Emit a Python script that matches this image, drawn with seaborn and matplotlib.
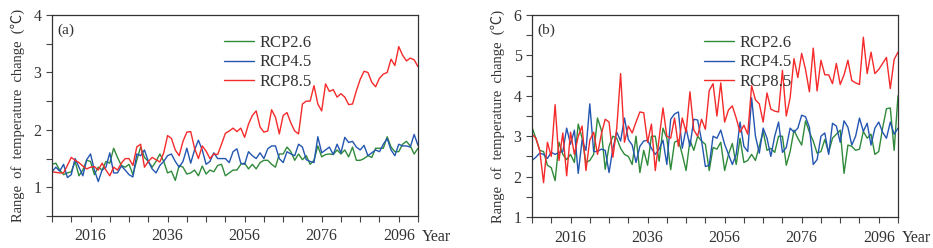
import numpy as np
import pandas as pd
import matplotlib
matplotlib.use('Agg')
import matplotlib.pyplot as plt
import seaborn as sns

years = list(range(2006, 2102))
scenarios = ['RCP2.6', 'RCP4.5', 'RCP8.5']

# panel (a)
rcp26_a = [1.40, 1.42, 1.30, 1.22, 1.25, 1.27, 1.45, 1.20, 1.30, 1.47, 1.45, 1.22, 1.35, 1.30, 1.45, 1.42,
           1.68, 1.52, 1.38, 1.35, 1.40, 1.22, 1.47, 1.70, 1.52, 1.45, 1.35, 1.45, 1.58, 1.45, 1.25, 1.28,
           1.12, 1.38, 1.35, 1.23, 1.25, 1.30, 1.20, 1.37, 1.23, 1.30, 1.27, 1.38, 1.40, 1.20, 1.25, 1.30,
           1.30, 1.40, 1.42, 1.32, 1.40, 1.32, 1.43, 1.47, 1.47, 1.40, 1.35, 1.58, 1.58, 1.70, 1.62, 1.47,
           1.58, 1.48, 1.55, 1.40, 1.47, 1.72, 1.53, 1.57, 1.58, 1.57, 1.65, 1.58, 1.65, 1.53, 1.70, 1.47,
           1.47, 1.50, 1.55, 1.52, 1.68, 1.68, 1.68, 1.88, 1.70, 1.62, 1.62, 1.75, 1.80, 1.72, 1.58, 1.68]
rcp45_a = [1.27, 1.35, 1.28, 1.40, 1.17, 1.22, 1.50, 1.35, 1.20, 1.48, 1.58, 1.30, 1.10, 1.30, 1.35, 1.60,
           1.25, 1.25, 1.37, 1.30, 1.22, 1.18, 1.58, 1.55, 1.65, 1.45, 1.32, 1.25, 1.38, 1.45, 1.55, 1.58,
           1.45, 1.35, 1.45, 1.68, 1.42, 1.65, 1.82, 1.65, 1.40, 1.45, 1.60, 1.50, 1.50, 1.50, 1.43, 1.62,
           1.67, 1.42, 1.40, 1.62, 1.55, 1.50, 1.60, 1.50, 1.67, 1.72, 1.72, 1.50, 1.43, 1.62, 1.58, 1.55,
           1.75, 1.70, 1.48, 1.45, 1.43, 1.88, 1.60, 1.65, 1.70, 1.57, 1.75, 1.60, 1.87, 1.78, 1.80, 1.70,
           1.65, 1.73, 1.55, 1.60, 1.65, 1.62, 1.75, 1.85, 1.65, 1.55, 1.75, 1.72, 1.72, 1.70, 1.92, 1.73]
rcp85_a = [1.27, 1.26, 1.25, 1.25, 1.38, 1.52, 1.47, 1.43, 1.37, 1.32, 1.35, 1.36, 1.30, 1.42, 1.30, 1.20,
           1.35, 1.30, 1.42, 1.50, 1.50, 1.38, 1.70, 1.75, 1.35, 1.45, 1.52, 1.48, 1.44, 1.60, 1.90, 1.85,
           1.65, 1.55, 1.80, 1.96, 1.97, 1.68, 1.50, 1.72, 1.63, 1.50, 1.58, 1.57, 1.75, 1.94, 1.98, 2.03,
           1.97, 2.03, 1.87, 2.10, 2.25, 2.33, 2.05, 1.96, 1.98, 2.35, 2.22, 1.93, 2.25, 2.30, 2.12, 1.98,
           1.93, 2.45, 2.50, 2.50, 2.77, 2.45, 2.33, 2.80, 2.67, 2.70, 2.57, 2.63, 2.57, 2.44, 2.45, 2.68,
           2.88, 3.02, 3.00, 2.83, 2.75, 2.90, 2.97, 3.00, 3.23, 3.12, 3.45, 3.30, 3.20, 3.25, 3.22, 3.10]

# panel (b)
rcp26_b = [3.22, 2.95, 2.65, 2.62, 2.28, 2.22, 1.90, 2.85, 2.55, 2.42, 2.55, 2.35, 3.30, 2.95, 2.35, 2.40,
           2.55, 3.45, 3.15, 2.18, 2.75, 3.00, 2.95, 2.70, 2.55, 2.50, 2.30, 3.00, 2.10, 2.65, 2.28, 3.00,
           3.00, 2.38, 3.20, 2.95, 2.17, 2.85, 2.90, 2.55, 2.15, 2.90, 2.65, 3.00, 2.88, 2.80, 2.15, 2.72,
           2.68, 2.85, 2.15, 2.55, 2.82, 2.30, 2.95, 2.35, 2.40, 2.55, 2.40, 2.75, 3.12, 2.65, 2.70, 2.60,
           3.00, 3.00, 2.28, 2.62, 3.15, 2.95, 2.78, 3.38, 3.10, 2.88, 2.58, 2.62, 2.92, 2.60, 2.95, 3.05,
           3.15, 2.08, 2.78, 2.75, 2.65, 2.68, 3.12, 2.95, 3.05, 2.55, 2.62, 3.20, 3.68, 3.70, 2.65, 4.00]
rcp45_b = [2.40, 2.48, 2.58, 2.55, 2.45, 2.60, 2.55, 2.60, 2.62, 3.20, 2.80, 3.15, 2.08, 2.90, 2.65, 3.80,
           2.62, 2.62, 2.68, 2.65, 2.10, 2.70, 3.10, 2.88, 3.45, 2.92, 2.78, 2.35, 2.75, 2.88, 2.90, 2.70,
           2.55, 2.68, 2.90, 2.30, 3.42, 3.55, 3.60, 2.70, 3.20, 2.75, 3.42, 3.40, 2.90, 2.25, 2.28, 3.00,
           2.95, 3.15, 2.80, 2.55, 2.30, 2.55, 3.35, 2.75, 2.62, 3.95, 3.00, 2.58, 3.20, 2.95, 2.50, 3.00,
           3.35, 2.60, 2.72, 3.20, 3.10, 3.20, 3.52, 3.48, 3.22, 2.30, 2.42, 3.00, 3.08, 2.55, 3.32, 3.25,
           2.85, 3.38, 3.22, 2.78, 3.00, 3.45, 3.12, 3.32, 2.78, 3.20, 3.35, 3.10, 2.95, 3.35, 3.05, 3.20]
rcp85_b = [3.05, 2.95, 2.65, 1.85, 2.85, 2.50, 3.78, 2.40, 3.08, 2.02, 3.10, 2.55, 3.00, 3.25, 2.15, 2.90,
           3.10, 2.55, 3.05, 3.42, 3.35, 2.48, 3.20, 4.55, 2.85, 3.25, 3.08, 3.35, 3.60, 3.58, 2.85, 3.30,
           2.15, 2.95, 3.70, 3.00, 2.95, 3.45, 2.75, 3.45, 3.10, 4.10, 3.15, 3.00, 3.42, 3.17, 4.13, 4.30,
           3.50, 4.32, 3.35, 3.65, 3.75, 3.45, 3.10, 3.27, 3.05, 4.25, 3.90, 3.80, 3.35, 4.07, 3.67, 3.62,
           3.60, 4.63, 3.50, 3.95, 4.92, 4.45, 5.05, 4.65, 4.10, 5.18, 4.12, 4.88, 4.52, 4.52, 4.30, 4.80,
           4.28, 4.52, 4.88, 4.38, 4.32, 4.28, 5.45, 4.55, 5.08, 4.55, 4.65, 4.80, 4.95, 4.18, 4.90, 5.08]

label_years = [2016, 2036, 2056, 2076, 2096]
palette = {'RCP2.6': '#2f8a3a', 'RCP4.5': '#2356b0', 'RCP8.5': '#f52a2a'}


def make_frame(s26, s45, s85):
    parts = []
    for name, vals in zip(scenarios, [s26, s45, s85]):
        parts.append(pd.DataFrame({'year': years, 'value': vals, 'scenario': name}))
    return pd.concat(parts, ignore_index=True)


sns.set_style('ticks')
plt.rcParams['font.family'] = ['Liberation Serif', 'Noto Sans CJK SC', 'DejaVu Sans']

fig = plt.figure(figsize=(9.33, 2.48), dpi=100)
ax_a = fig.add_axes([52 / 933, 32 / 248, 366 / 933, 201 / 248])
ax_b = fig.add_axes([532 / 933, 31 / 248, 366 / 933, 202 / 248])

panels = [
    (ax_a, make_frame(rcp26_a, rcp45_a, rcp85_a), (0.5, 4), [1, 2, 3, 4], '(a)'),
    (ax_b, make_frame(rcp26_b, rcp45_b, rcp85_b), (1, 6), [1, 2, 3, 4, 5, 6], '(b)'),
]

for ax, df, ylim, yticks, tag in panels:
    sns.lineplot(data=df, x='year', y='value', hue='scenario', palette=palette,
                 linewidth=1.0, ax=ax)
    ax.set_xlim(2006, 2101)
    ax.set_ylim(*ylim)
    ax.set_yticks(yticks)
    ax.set_yticks(np.arange(ylim[0], ylim[1] + 0.01, 0.5), minor=True)
    xt = list(range(2006, 2102, 5))
    ax.set_xticks(xt)
    ax.set_xticklabels([str(y) if y in label_years else '' for y in xt])
    ax.tick_params(axis='both', which='both', direction='out', length=4, width=0.8,
                   colors='#444444', labelsize=11.5, labelcolor='#333333')
    ax.tick_params(axis='x', pad=5)
    for sp in ax.spines.values():
        sp.set_color('#333333')
        sp.set_linewidth(0.9)
    ax.set_xlabel('')
    ax.set_ylabel('Range  of  temperature  change  (℃)', fontsize=10.5, color='#333333',
                  labelpad=6)
    ax.text(0.015, 0.96, tag, transform=ax.transAxes, fontsize=11, va='top', color='#333333')
    ax.text(1.01, -0.065, 'Year', transform=ax.transAxes, fontsize=11.5, va='top', color='#333333')
    leg = ax.legend(loc='upper left', bbox_to_anchor=(0.43, 0.975), frameon=False,
                    fontsize=12, handlelength=1.8, handletextpad=0.3, labelspacing=0.2)
    for t in leg.get_texts():
        t.set_color('#333333')

fig.savefig('out.png', dpi=100)
